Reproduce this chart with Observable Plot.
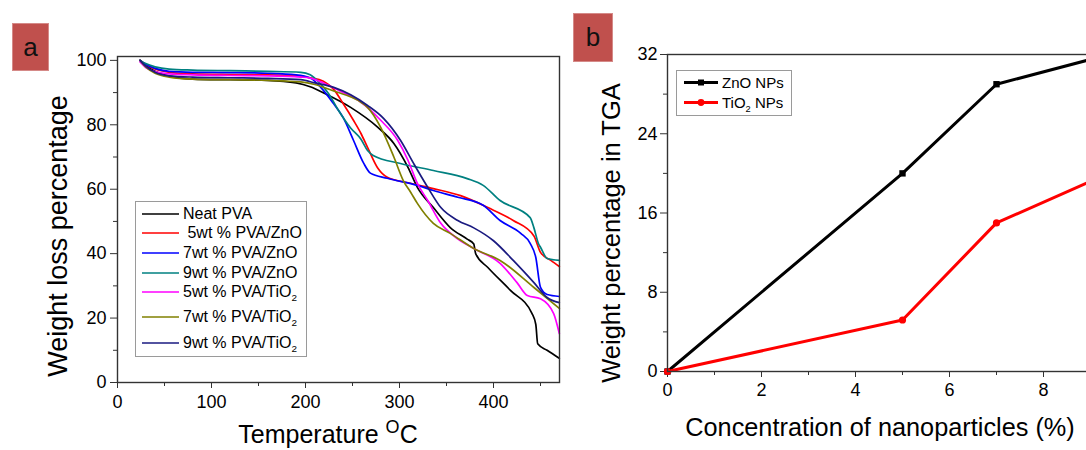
<!DOCTYPE html>
<html><head><meta charset="utf-8">
<script src="https://cdn.jsdelivr.net/npm/d3@7"></script>
<script src="https://cdn.jsdelivr.net/npm/@observablehq/plot@0.6"></script>
<style>
html,body{margin:0;padding:0;overflow:hidden;background:#fff;}
#root{position:relative;width:1086px;height:450px;overflow:hidden;font-family:"Liberation Sans",Arial,sans-serif;color:#000;}
.abs{position:absolute;white-space:nowrap;line-height:1;}
.plot{position:absolute;top:0;}
.plot svg{max-width:none !important;}
.tag{position:absolute;background:#c0504d;border:1px solid #d58a88;box-sizing:border-box;display:flex;align-items:center;justify-content:center;font-size:26px;color:#111;}
.legbox{position:absolute;border:1px solid #9a9a9a;background:#fff;box-sizing:border-box;}
.row{position:absolute;display:flex;align-items:center;transform:translateY(-50%);white-space:nowrap;}
sub{font-size:0.62em;vertical-align:-0.45em;line-height:0;}
sup{font-size:0.72em;vertical-align:0.55em;line-height:0;}
</style></head>
<body>
<div id="root">
  <div class="tag" style="left:12px;top:23px;width:37px;height:48px;">a</div>
  <div class="tag" style="left:573px;top:13px;width:40px;height:49px;">b</div>
  <div id="pa" class="plot" style="left:0px;width:560px;"></div>
  <div id="pb" class="plot" style="left:560px;width:578px;"></div>
  <div class="abs" style="left:58px;top:236px;font-size:27px;transform:translate(-50%,-50%) rotate(-90deg);">Weight loss percentage</div>
  <div class="abs" style="left:328px;top:434px;font-size:25px;transform:translate(-50%,-50%);">Temperature <sup>O</sup>C</div>
  <div class="abs" style="left:612px;top:233px;font-size:25.5px;transform:translate(-50%,-50%) rotate(-90deg);">Weight percentage in TGA</div>
  <div class="abs" style="left:880px;top:428px;font-size:25.3px;transform:translate(-50%,-50%);">Concentration of nanoparticles (%)</div>
  <div id="lega"></div>
  <div id="legb"></div>
</div>
<script>
// ---------- Panel a: TGA curves [temperature °C, weight %] ----------
const neatPVA = [[24,100],[30,98.4],[40,96.6],[55,95.1],[80,94.2],[120,94],[160,93.8],[190,93],[205,91.8],[220,89.8],[248,85.4],[277,79.2],[294,74.2],[309,66.8],[319,60.6],[336,54.3],[354,48.1],[372,44.5],[379,43],[381,40],[394,35.7],[418,28.6],[441,21.4],[445,18],[447,12],[457,10],[470,7.5]];
const zno5 = [[24,100],[30,98.7],[40,97.3],[55,96.3],[80,95.8],[120,95.6],[160,95.5],[190,95.2],[205,94.6],[219,93.5],[230,91],[240,86.6],[251,81.4],[259,77.3],[266,73],[277,66.5],[287,63.7],[309,62],[336,60.2],[365,58],[394,54.3],[421,50.3],[443,45.5],[450,40.4],[461,37.9],[470,36]];
const zno7 = [[24,100],[30,98.8],[40,97.5],[55,96.6],[80,96.3],[120,96.2],[160,96],[190,95.5],[205,94.5],[219,90.7],[230,86.5],[240,82.3],[251,75.2],[262,68],[269,65],[287,63.4],[319,61.2],[336,59.6],[362,57.5],[389,55],[407,50.3],[429,46.3],[439,43.2],[445,38.8],[450,29.5],[457,27.3],[470,26.7]];
const zno9 = [[24,100],[30,99],[40,98],[55,97.3],[80,97],[120,96.8],[160,96.6],[195,96.3],[205,95.5],[215,93],[225,89.5],[234,85],[248,79],[259,75.5],[266,72],[272,70.5],[301,68],[336,65.8],[372,63.3],[389,61.2],[407,56.5],[439,51.2],[443,48],[448,43],[450,42],[457,38.5],[470,37.9]];
const tio5 = [[24,99.5],[30,97.8],[40,96.5],[55,95.8],[80,95.5],[120,95.3],[160,95.2],[195,94.8],[205,94.5],[219,93],[240,90],[259,87],[280,81.4],[298,75.2],[309,69],[319,61.8],[330,56.5],[344,49.4],[360,45],[379,41.6],[407,37],[425,31],[436,27],[450,26],[464,21.4],[470,15.2]];
const tio7 = [[24,100],[30,98],[40,96],[55,94.8],[80,94.2],[120,94],[160,93.8],[195,93.3],[210,92.5],[230,90.5],[259,87],[266,85.4],[280,79.2],[294,70],[304,62.7],[312,59],[319,55.6],[336,49.4],[354,46.3],[379,41.6],[407,37.9],[443,29.5],[470,23]];
const tio9 = [[24,100],[30,98.2],[40,96.3],[55,95.2],[80,94.8],[120,94.6],[160,94.4],[195,94],[210,93],[230,91.6],[266,86],[283,82],[301,75.2],[315,68],[330,60.6],[344,54.3],[362,50.3],[379,48],[400,44],[421,37.9],[443,31],[457,26.4],[470,24.8]];

const seriesNames = ["Neat PVA", " 5wt % PVA/ZnO", "7wt % PVA/ZnO", "9wt % PVA/ZnO", "5wt % PVA/TiO2", "7wt % PVA/TiO2", "9wt % PVA/TiO2"];
const seriesColors = ["#000000", "#ff0000", "#0000ff", "#008080", "#ff00ff", "#808000", "#1a1a80"];
const seriesData = [neatPVA, zno5, zno7, zno9, tio5, tio7, tio9];

const yTicksA = [0, 20, 40, 60, 80, 100];
const yMinorA = [10, 30, 50, 70, 90];
const xTicksA = [0, 100, 200, 300, 400];
const xMinorA = [50, 150, 250, 350, 450];

// ---------- Panel b ----------
const concentration = [0, 5, 7, 9];
const znoNPs = [0, 20, 29, 31.5];
const tio2NPs = [0, 5.2, 15, 19.2];
const yTicksB = [0, 8, 16, 24, 32];
const yMinorB = [4, 12, 20, 28];
const xTicksB = [0, 2, 4, 6, 8];
const xMinorB = [1, 3, 5, 7, 9];

const font = {fontFamily: "'Liberation Sans', Arial, sans-serif", fontSize: "18px", color: "#000", background: "transparent", overflow: "visible", maxWidth: "none"};

const tableA = seriesData.flatMap((arr, i) => arr.map(([t, w]) => ({series: seriesNames[i], t, w})));

const plotA = Plot.plot({
  width: 560, height: 450,
  marginLeft: 117, marginRight: 1, marginTop: 56, marginBottom: 68,
  x: {domain: [0, 470.2]},
  y: {domain: [0, 101.2]},
  color: {domain: seriesNames, range: seriesColors},
  style: font,
  marks: [
    Plot.axisY(yTicksA, {tickSize: 7, tickPadding: 4, label: null, stroke: "#333"}),
    Plot.axisY(yMinorA, {tickSize: 4, tickFormat: () => "", label: null, stroke: "#333"}),
    Plot.axisX(xTicksA, {tickSize: 6, tickPadding: 7, label: null, stroke: "#333"}),
    Plot.axisX(xMinorA, {tickSize: 4, tickFormat: () => "", label: null, stroke: "#333"}),
    Plot.line(tableA, {x: "t", y: "w", z: "series", stroke: "series", curve: "monotone-x", strokeWidth: 1.7}),
    Plot.frame({stroke: "#333", strokeWidth: 1.4})
  ]
});
document.getElementById("pa").appendChild(plotA);

const tableB = [
  ...concentration.map((c, i) => ({series: "ZnO NPs", c, v: znoNPs[i]})),
  ...concentration.map((c, i) => ({series: "TiO2 NPs", c, v: tio2NPs[i]}))
];

const plotB = Plot.plot({
  width: 578, height: 450,
  marginLeft: 107, marginRight: 1, marginTop: 54, marginBottom: 79,
  x: {domain: [0, 10]},
  y: {domain: [0, 32]},
  color: {domain: ["ZnO NPs", "TiO2 NPs"], range: ["#000000", "#ff0000"]},
  style: font,
  marks: [
    Plot.axisY(yTicksB, {tickSize: 7, tickPadding: 3, label: null, stroke: "#333"}),
    Plot.axisY(yMinorB, {tickSize: 4, tickFormat: () => "", label: null, stroke: "#333"}),
    Plot.axisX(xTicksB, {tickSize: 6, tickPadding: 6, label: null, stroke: "#333"}),
    Plot.axisX(xMinorB, {tickSize: 4, tickFormat: () => "", label: null, stroke: "#333"}),
    Plot.line(tableB, {x: "c", y: "v", z: "series", stroke: "series", strokeWidth: 3}),
    Plot.dot(tableB.filter(d => d.series === "ZnO NPs"), {x: "c", y: "v", symbol: "square", fill: "#000", r: 3.6}),
    Plot.dot(tableB.filter(d => d.series === "TiO2 NPs"), {x: "c", y: "v", symbol: "circle", fill: "#ff0000", r: 3.6}),
    Plot.frame({stroke: "#333", strokeWidth: 1.4})
  ]
});
document.getElementById("pb").appendChild(plotB);

// ---------- Legends (HTML) ----------
function label(name) {
  return name.replace("TiO2", "TiO<sub>2</sub>");
}
const legA = document.getElementById("lega");
legA.innerHTML = `<div class="legbox" style="left:135px;top:201px;width:172px;height:156px;"></div>`;
const rowYA = [214, 233, 253, 273, 292, 317, 343];
seriesNames.forEach((n, i) => {
  const d = document.createElement("div");
  d.className = "row";
  d.style.left = "142px"; d.style.top = rowYA[i] + "px"; d.style.fontSize = "16px";
  d.innerHTML = `<svg width="37" height="4" style="margin-right:4px"><line x1="0" y1="2" x2="37" y2="2" stroke="${seriesColors[i]}" stroke-width="1.7"/></svg><span style="white-space:pre">${label(n)}</span>`;
  legA.appendChild(d);
});

const legB = document.getElementById("legb");
legB.innerHTML = `<div class="legbox" style="left:676px;top:70px;width:116px;height:46px;"></div>`;
[["ZnO NPs", "#000", "square", 82], ["TiO2 NPs", "#ff0000", "circle", 102]].forEach(([n, col, sym, y]) => {
  const d = document.createElement("div");
  d.className = "row";
  d.style.left = "684px"; d.style.top = y + "px"; d.style.fontSize = "15px";
  const marker = sym === "square"
    ? `<rect x="14" y="3" width="6" height="6" fill="${col}"/>`
    : `<circle cx="17" cy="6" r="3.4" fill="${col}"/>`;
  d.innerHTML = `<svg width="34" height="12" style="margin-right:4px"><line x1="0" y1="6" x2="34" y2="6" stroke="${col}" stroke-width="3"/>${marker}</svg><span>${label(n)}</span>`;
  legB.appendChild(d);
});
</script>
</body></html>
